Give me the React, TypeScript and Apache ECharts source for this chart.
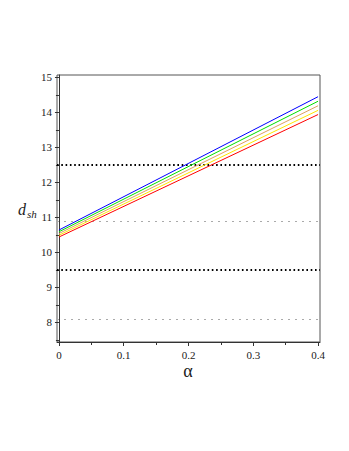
import React, { useEffect, useRef } from "react";
import * as echarts from "echarts";

const alphaEnds = [0, 0.4];
const blueVals = [10.64, 14.45];
const greenVals = [10.59, 14.32];
const tanVals = [10.54, 14.19];
const yellowVals = [10.49, 14.06];
const redVals = [10.44, 13.94];
const blackRefs = [12.5, 9.5];
const grayRefs = [10.9, 8.1];
const yLabels = [8, 9, 10, 11, 12, 13, 14, 15];
const yMinor = [7.5, 8.5, 9.5, 10.5, 11.5, 12.5, 13.5, 14.5];
const xLabels = [0, 0.1, 0.2, 0.3, 0.4];
const xMinor = [0.05, 0.15, 0.25, 0.35];

const serif = "'Liberation Serif', 'DejaVu Serif', serif";

export default function App() {
  const ref = useRef<HTMLDivElement>(null);
  useEffect(() => {
    const chart = echarts.init(ref.current!, null, { renderer: "svg" });
    const mk = (name: string, vals: number[], color: string) => ({
      type: "line",
      name,
      xAxisIndex: 0,
      yAxisIndex: 0,
      data: alphaEnds.map((a, i) => [a, vals[i]]),
      symbol: "none",
      lineStyle: { color, width: 1 },
      z: 5,
    });
    const xMin = -0.003;
    const xMax = 0.403;
    const yMin = 7.44;
    const yMax = 15.07;
    chart.setOption({
      animation: false,
      grid: {
        left: 57,
        right: 29,
        top: 75,
        bottom: 109,
        show: true,
        borderColor: "#555",
        borderWidth: 1,
      },
      xAxis: [
        {
          type: "value",
          min: xMin,
          max: xMax,
          splitLine: { show: false },
          axisLine: { lineStyle: { color: "#333" } },
          axisTick: { customValues: xLabels, length: 4, lineStyle: { color: "#333" } },
          axisLabel: {
            customValues: xLabels,
            margin: 7,
            fontFamily: serif,
            fontSize: 11,
            color: "#222",
            formatter: (v: number) => String(Math.round(v * 10) / 10),
          },
        },
        {
          type: "value",
          min: xMin,
          max: xMax,
          position: "bottom",
          splitLine: { show: false },
          axisLine: { show: false },
          axisTick: { customValues: xMinor, length: 3, lineStyle: { color: "#333" } },
          axisLabel: { show: false },
        },
      ],
      yAxis: [
        {
          type: "value",
          min: yMin,
          max: yMax,
          splitLine: { show: false },
          axisLine: { show: true, lineStyle: { color: "#333" } },
          axisTick: { show: true, customValues: yLabels, length: 4, lineStyle: { color: "#333" } },
          axisLabel: {
            customValues: yLabels,
            margin: 5,
            fontFamily: serif,
            fontSize: 11,
            color: "#222",
          },
        },
        {
          type: "value",
          min: yMin,
          max: yMax,
          position: "left",
          splitLine: { show: false },
          axisLine: { show: false },
          axisTick: { show: true, customValues: yMinor, length: 3, lineStyle: { color: "#333" } },
          axisLabel: { show: false },
        },
      ],
      series: [
        {
          type: "line",
          data: [],
          markLine: {
            silent: true,
            symbol: "none",
            label: { show: false },
            data: [
              ...blackRefs.map((v) => ({
                yAxis: v,
                lineStyle: { color: "#000", width: 1.8, type: [1.6, 2.7] },
              })),
              ...grayRefs.map((v) => ({
                yAxis: v,
                lineStyle: { color: "#aaa", width: 1, type: [2, 5] },
              })),
            ],
          },
        },
        mk("red", redVals, "#ff0000"),
        mk("yellow", yellowVals, "#ffe600"),
        mk("tan", tanVals, "#dda060"),
        mk("green", greenVals, "#00e000"),
        mk("blue", blueVals, "#0000ff"),
      ],
      graphic: [
        {
          type: "text",
          x: 18,
          y: 201,
          style: { text: "d", fontStyle: "italic", fontSize: 16, fontFamily: serif, fill: "#222" },
        },
        {
          type: "text",
          x: 27,
          y: 208,
          style: { text: "sh", fontStyle: "italic", fontSize: 11, fontFamily: serif, fill: "#222" },
        },
        {
          type: "text",
          x: 188,
          y: 371,
          style: {
            text: "α",
            fontSize: 18,
            fontFamily: serif,
            fill: "#222",
            align: "center",
            verticalAlign: "middle",
          },
        },
      ],
    });
    return () => chart.dispose();
  }, []);
  return <div ref={ref} style={{ width: 349, height: 451, margin: -8 }} />;
}
